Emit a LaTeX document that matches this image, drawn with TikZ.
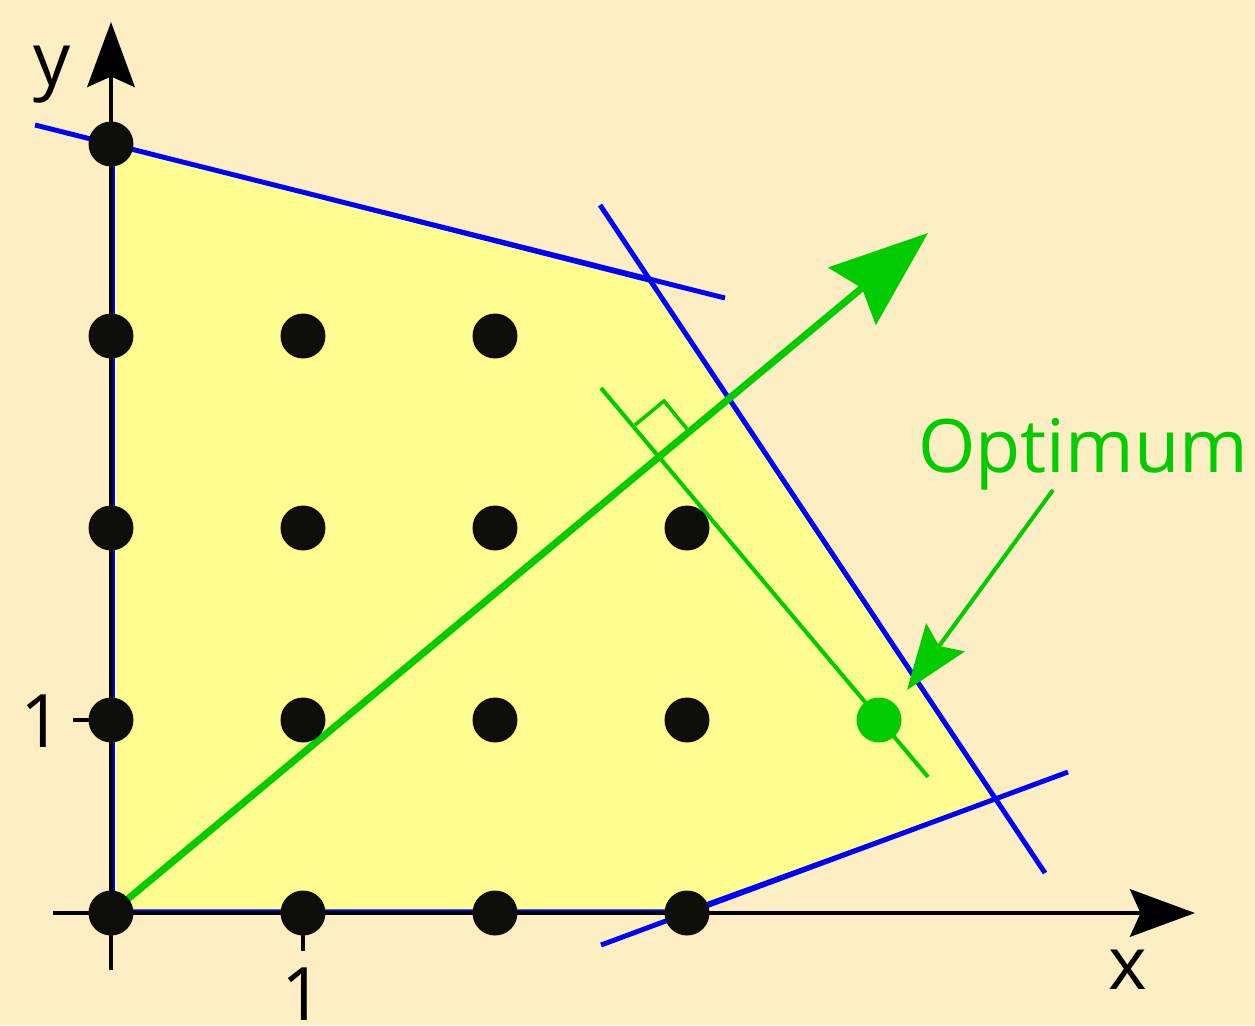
\documentclass[tikz,border=0pt]{standalone}
\usepackage{fontspec}
\setmainfont{Open Sans}
\usetikzlibrary{arrows.meta}
\definecolor{bg}{RGB}{253,238,196}
\definecolor{feas}{RGB}{255,253,143}
\definecolor{gr}{RGB}{0,204,0}
\definecolor{dotc}{RGB}{13,13,10}
\begin{document}
\begin{tikzpicture}[x=0.02cm,y=-0.02cm,
  dot/.style={circle,fill=dotc,minimum size=0.9cm,inner sep=0pt},
  gdot/.style={circle,fill=gr,minimum size=0.9cm,inner sep=0pt},
  bline/.style={draw=blue,line width=2.8pt},
  axis/.style={draw=black,line width=2.6pt},
  axtip/.style={-{Stealth[length=37pt,width=27pt,inset=6pt]}},
  lbl/.style={font=\fontsize{42}{50}\selectfont,inner sep=0pt},
  glbl/.style={font=\fontsize{42}{50}\selectfont,inner sep=0pt,text=gr}]
\fill[bg] (0,0) rectangle (1255,1025);
\useasboundingbox (0,0) rectangle (1255,1025);
% feasible region
\filldraw[fill=feas,draw=blue,line width=2pt] (113,911) -- (113,144) -- (650,281) -- (995,799) -- (687,911) -- cycle;
% constraint lines
\coordinate (c1a) at (35,125); \coordinate (c1b) at (725,298);
\coordinate (c2a) at (600,205); \coordinate (c2b) at (1045,873);
\coordinate (c3a) at (601,945); \coordinate (c3b) at (1068,772);
\draw[bline] (c1a) -- (c1b);
\draw[bline] (c2a) -- (c2b);
\draw[bline] (c3a) -- (c3b);
% axes
\coordinate (xs) at (53,913); \coordinate (xe) at (1195,913);
\coordinate (ys) at (111,970); \coordinate (ye) at (111,22);
\draw[axis,axtip] (xs) -- (xe);
\draw[axis,axtip] (ys) -- (ye);
\coordinate (tx0) at (303,913); \coordinate (tx1) at (303,951);
\coordinate (ty0) at (111,720); \coordinate (ty1) at (73,720);
\draw[axis] (tx0) -- (tx1);
\draw[axis] (ty0) -- (ty1);
\node[lbl,anchor=base] (lx1) at (303,1020) {1};
\node[lbl,anchor=base] (ly1) at (42,747) {1};
\node[lbl,anchor=base] (lx) at (1128,989) {x};
\node[lbl,anchor=base] (ly) at (52,85) {y};
% objective direction
\coordinate (o) at (111,913);
\coordinate (otip) at (928,233);
\draw[gr,line width=4pt,-{Stealth[length=56pt,width=42pt,inset=7pt]}] (o) -- (otip);
% level line and right angle
\coordinate (la) at (601,388); \coordinate (lb) at (928,777);
\draw[gr,line width=2.3pt] (la) -- (lb);
\coordinate (r1) at (635,425); \coordinate (r2) at (664,401); \coordinate (r3) at (687,429);
\draw[gr,line width=2pt] (r1) -- (r2) -- (r3);
% dots
\node[dot] (p04) at (111,144) {};
\node[dot] (p03) at (111,336) {};
\node[dot] (p13) at (303,336) {};
\node[dot] (p23) at (495,336) {};
\node[dot] (p02) at (111,528) {};
\node[dot] (p12) at (303,528) {};
\node[dot] (p22) at (495,528) {};
\node[dot] (p32) at (687,528) {};
\node[dot] (p01) at (111,720) {};
\node[dot] (p11) at (303,720) {};
\node[dot] (p21) at (495,720) {};
\node[dot] (p31) at (687,720) {};
\node[gdot] (p41) at (879,720) {};
\node[dot] (p00) at (111,913) {};
\node[dot] (p10) at (303,913) {};
\node[dot] (p20) at (495,913) {};
\node[dot] (p30) at (687,913) {};
% optimum label
\node[glbl,anchor=base] (opt) at (1083,472) {Optimum};
\coordinate (oa) at (1053,490); \coordinate (ob) at (907,690);
\draw[gr,line width=2.3pt,-{Stealth[length=37pt,width=27pt,inset=6pt]}] (oa) -- (ob);
\end{tikzpicture}
\end{document}
